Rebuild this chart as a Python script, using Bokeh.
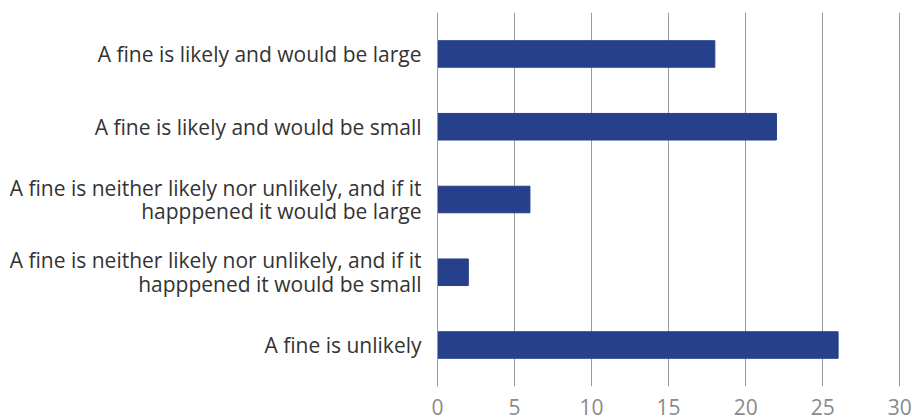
from bokeh.plotting import figure
from bokeh.models import FactorRange, Range1d, FixedTicker
from bokeh.embed import file_html
from bokeh.resources import INLINE

categories = [
    "A fine is likely and would be large",
    "A fine is likely and would be small",
    "A fine is neither likely nor unlikely, and if it\nhapppened it would be large",
    "A fine is neither likely nor unlikely, and if it\nhapppened it would be small",
    "A fine is unlikely",
]
values = [18, 22, 6, 2, 26]
x_ticks = [0, 5, 10, 15, 20, 25, 30]

grid_color = "#9a9a9a"

p = figure(
    width=912, height=419,
    y_range=FactorRange(factors=categories[::-1], range_padding=0.07, range_padding_units="absolute"),
    x_range=Range1d(0, 30.05),
    output_backend="svg", toolbar_location=None,
    min_border_left=437, min_border_right=12, min_border_top=12, min_border_bottom=33,
)
p.hbar(y=categories, right=values, left=0, height=0.365, color="#26408C")

p.outline_line_color = None
p.xgrid.grid_line_color = grid_color
p.xgrid.grid_line_width = 1
p.ygrid.grid_line_color = None
p.xaxis.ticker = FixedTicker(ticks=x_ticks)
p.xaxis.axis_line_color = None
p.xaxis.major_tick_line_color = None
p.xaxis.minor_tick_line_color = None
p.xaxis.major_label_text_color = "#8a8a8a"
p.xaxis.major_label_text_font = "Open Sans"
p.xaxis.major_label_text_font_size = "21px"
p.xaxis.major_label_standoff = 6

p.yaxis.axis_line_color = grid_color
p.yaxis.axis_line_width = 1
p.yaxis.major_tick_line_color = None
p.yaxis.minor_tick_line_color = None
p.yaxis.major_label_text_color = "#333333"
p.yaxis.major_label_text_font = "Open Sans"
p.yaxis.major_label_text_font_size = "21px"
p.yaxis.major_label_text_line_height = 0.85
p.yaxis.major_label_standoff = 10
# two-line labels: first line sits level with the bar, as in the reference
p.yaxis.major_label_overrides = {c: "\n" + c for c in categories if "\n" in c}

open("out.html", "w").write(file_html(p, INLINE))
